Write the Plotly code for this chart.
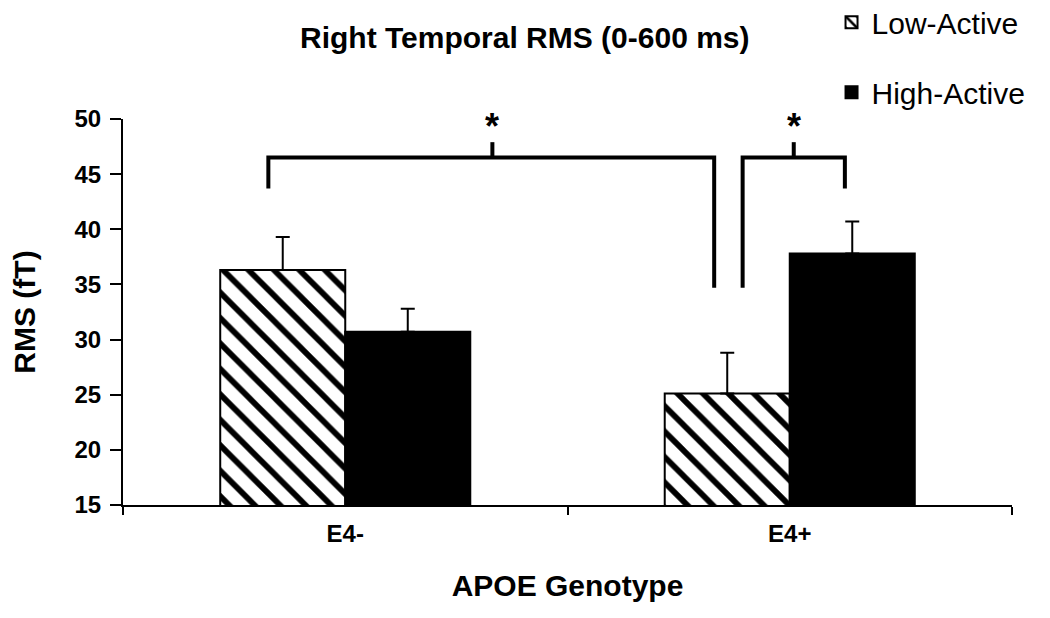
import plotly.graph_objects as go

categories = ["E4-", "E4+"]
low_active = [36.3, 25.1]
low_err = [3.0, 3.7]
high_active = [30.7, 37.8]
high_err = [2.1, 2.9]
y_ticks = [15, 20, 25, 30, 35, 40, 45, 50]

# significance brackets: (x path points, y path points), star position
brackets = [
    ([-0.173, -0.173, 0.83, 0.83], [43.7, 46.5, 46.5, 34.7], 0.331),
    ([0.894, 0.894, 1.124, 1.124], [34.7, 46.5, 46.5, 43.7], 1.009),
]
bracket_top = 46.5
tick_top = 47.9
star_y = 49.3

FONT = "Liberation Sans, Arial, sans-serif"

fig = go.Figure()
fig.add_trace(go.Bar(
    name="Low-Active", x=categories, y=low_active,
    legendgroup="a",
    marker=dict(color="white", line=dict(color="black", width=2),
                pattern=dict(shape="\\", fgcolor="black", bgcolor="white", fgopacity=1,
                             size=18, solidity=0.32, fillmode="replace")),
    error_y=dict(type="data", array=low_err, arrayminus=[0, 0], symmetric=False,
                 color="black", thickness=2, width=7),
))
fig.add_trace(go.Bar(
    name="High-Active", x=categories, y=high_active,
    legendgroup="b",
    marker=dict(color="black", line=dict(color="black", width=2)),
    error_y=dict(type="data", array=high_err, arrayminus=[0, 0], symmetric=False,
                 color="black", thickness=2, width=7),
))

for xs, ys, xc in brackets:
    path = "M " + " L ".join(f"{x},{y}" for x, y in zip(xs, ys))
    fig.add_shape(type="path", path=path, xref="x", yref="y",
                  line=dict(color="black", width=4))
    fig.add_shape(type="line", x0=xc, x1=xc, y0=bracket_top, y1=tick_top,
                  xref="x", yref="y", line=dict(color="black", width=4))
    fig.add_annotation(x=xc, y=star_y, xref="x", yref="y", text="*",
                       showarrow=False, font=dict(size=36, color="black", family=FONT, weight="bold"))

fig.add_annotation(x=(525 - 123) / 889, y=(505 - 38) / 386, xref="paper", yref="paper",
                   text="Right Temporal RMS (0-600 ms)", xanchor="center", yanchor="middle",
                   showarrow=False, font=dict(size=30, color="black", family=FONT, weight="bold"))

# the page body adds an 8 px offset, compensated in the margins
fig.update_layout(
    width=1050, height=618,
    margin=dict(l=115, r=46, t=111, b=121, autoexpand=False),
    paper_bgcolor="white", plot_bgcolor="white",
    barmode="group", bargap=0.4375, bargroupgap=0,
    font=dict(family=FONT, color="black"),
    showlegend=True,
    legend=dict(x=0.797, y=1.318, xanchor="left", yanchor="top",
                font=dict(size=30, family=FONT, color="black"),
                tracegroupgap=28, bgcolor="rgba(0,0,0,0)"),
    xaxis=dict(range=[-0.5, 1.5], showline=True, linecolor="black", linewidth=2,
               ticks="outside", tickson="boundaries", ticklen=8, tickwidth=2, tickcolor="black",
               tickfont=dict(size=24, family=FONT, weight="bold"), ticklabelstandoff=6,
               title=dict(text="APOE Genotype", font=dict(size=30, family=FONT, weight="bold"), standoff=29),
               showgrid=False, zeroline=False),
    yaxis=dict(range=[15, 50], tickvals=y_ticks, showline=True, linecolor="black", linewidth=2,
               ticks="outside", ticklen=11, tickwidth=2, tickcolor="black",
               tickfont=dict(size=24, family=FONT, weight="bold"), ticklabelstandoff=4,
               title=dict(text="RMS (fT)", font=dict(size=30, family=FONT, weight="bold"), standoff=41),
               showgrid=False, zeroline=False),
)

fig.write_html("out.html")
